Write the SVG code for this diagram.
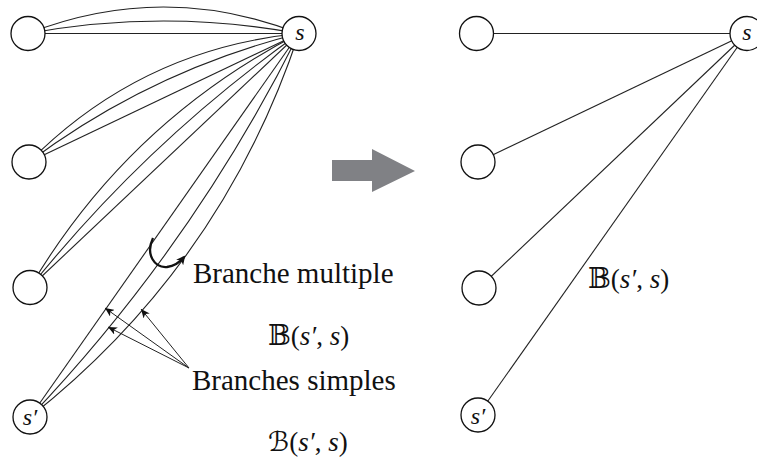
<svg xmlns="http://www.w3.org/2000/svg" width="757" height="461" viewBox="0 0 757 461">
<style>
.edge{fill:none;stroke:#222;stroke-width:1.1}
.node circle{fill:#fff;stroke:#111;stroke-width:1.3}
.nl{font-family:"Liberation Serif","DejaVu Serif",serif;font-style:italic;font-size:24px;fill:#111;text-anchor:middle}
.lbl{font-family:"Liberation Serif","DejaVu Serif",serif;font-size:29px;fill:#111}
.math{font-family:"Liberation Serif","DejaVu Serif","DejaVu Sans",serif;font-size:27px;fill:#111}
.math tspan.i{font-style:italic}
.ptr{fill:none;stroke:#222;stroke-width:1}
</style>
<defs>
<marker id="ah" markerWidth="9" markerHeight="8" refX="9" refY="4" orient="auto" markerUnits="userSpaceOnUse">
<path d="M0,0 L9,4 L0,8 L2.5,4 z" fill="#111"/>
</marker>
<marker id="ah2" markerWidth="9" markerHeight="9" refX="7" refY="4.5" orient="auto" markerUnits="userSpaceOnUse">
<path d="M0,0 L9,4.5 L0,9 L2.5,4.5 z" fill="#111"/>
</marker>
</defs>
<g id="connectors">
<path class="edge" d="M28,33.5 L299,33.5"/>
<path class="edge" d="M28,33.5 Q163.5,8.5 299,33.5"/>
<path class="edge" d="M28,33.5 Q163.5,-19.5 299,33.5"/>
<path class="edge" d="M29,162 L299,33.5"/>
<path class="edge" d="M29,162 Q151,70.6 299,33.5"/>
<path class="edge" d="M29,162 Q141,49 299,33.5"/>
<path class="edge" d="M30,287.5 L299,33.5"/>
<path class="edge" d="M30,287.5 Q146.7,141.6 299,33.5"/>
<path class="edge" d="M30,287.5 Q127.8,121.6 299,33.5"/>
<path class="edge" d="M30,417 L299,33.5"/>
<path class="edge" d="M30,417 Q193.3,245.4 299,33.5"/>
<path class="edge" d="M30,417 Q222,265.4 299,33.5"/>
<path class="edge" d="M476.5,33.5 L747,33.5"/>
<path class="edge" d="M478,162 L747,33.5"/>
<path class="edge" d="M479,288 L747,33.5"/>
<path class="edge" d="M478,415 L747,33.5"/>
<path class="ptr" d="M189,368 L105,308" marker-end="url(#ah)"/>
<path class="ptr" d="M189,368 L108,327" marker-end="url(#ah)"/>
<path class="ptr" d="M189,368 L141,309" marker-end="url(#ah)"/>
<path d="M153,238 C145,255 155,268 167,267 C175,266 180,262 184,257" fill="none" stroke="#111" stroke-width="2.3" marker-end="url(#ah2)"/>
</g>
<g id="nA" class="node"><circle cx="28" cy="33.5" r="17"/></g>
<g id="nS" class="node"><circle cx="299" cy="33.5" r="17"/><text class="nl" x="300" y="40">s</text></g>
<g id="nB" class="node"><circle cx="29" cy="162" r="17"/></g>
<g id="nC" class="node"><circle cx="30" cy="287.5" r="17"/></g>
<g id="nP" class="node"><circle cx="30" cy="417" r="17"/><text class="nl" x="30" y="425">s′</text></g>
<g id="nA2" class="node"><circle cx="476.5" cy="33.5" r="17"/></g>
<g id="nS2" class="node"><circle cx="747" cy="33.5" r="17"/><text class="nl" x="747" y="40">s</text></g>
<g id="nB2" class="node"><circle cx="478" cy="162" r="17"/></g>
<g id="nC2" class="node"><circle cx="479" cy="288" r="17"/></g>
<g id="nP2" class="node"><circle cx="478" cy="415" r="17"/><text class="nl" x="478" y="424">s′</text></g>
<g id="bigArrow"><polygon points="332,160 372,160 372,149 415,171 372,192 372,181 332,181" fill="#808185"/></g>
<g id="labels">
<text class="lbl" x="193" y="283">Branche multiple</text>
<text class="lbl" x="192" y="390">Branches simples</text>
<text class="math" x="268" y="345">𝔹(<tspan class="i">s′</tspan>, <tspan class="i">s</tspan>)</text>
<text class="math" x="268" y="451">ℬ(<tspan class="i">s′</tspan>, <tspan class="i">s</tspan>)</text>
<text class="math" x="588" y="288">𝔹(<tspan class="i">s′</tspan>, <tspan class="i">s</tspan>)</text>
</g>
</svg>
